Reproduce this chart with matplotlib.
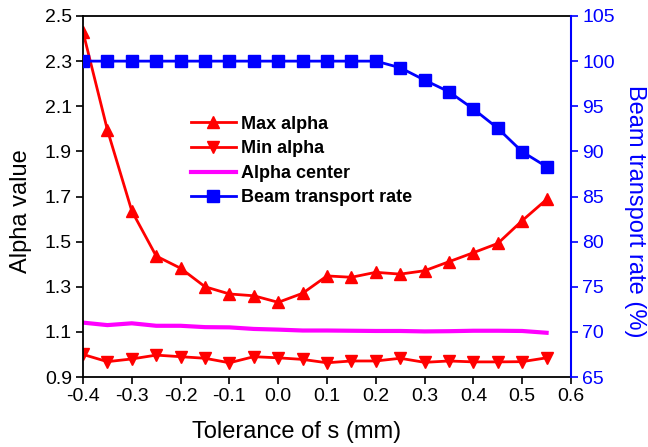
import matplotlib
matplotlib.use("Agg")
import matplotlib.pyplot as plt

plt.rcParams['font.family'] = ['Liberation Sans', 'DejaVu Sans']

tolerance = [-0.4, -0.35, -0.3, -0.25, -0.2, -0.15, -0.1, -0.05, 0.0, 0.05,
             0.1, 0.15, 0.2, 0.25, 0.3, 0.35, 0.4, 0.45, 0.5, 0.55]
max_alpha = [2.43, 1.995, 1.636, 1.436, 1.382, 1.30, 1.268, 1.26, 1.231, 1.271,
             1.348, 1.342, 1.364, 1.356, 1.371, 1.411, 1.451, 1.492, 1.593, 1.687]
min_alpha = [1.0, 0.968, 0.980, 0.997, 0.990, 0.983, 0.963, 0.990, 0.985, 0.978,
             0.963, 0.971, 0.971, 0.983, 0.965, 0.971, 0.967, 0.967, 0.968, 0.985]
alpha_center = [1.141, 1.130, 1.138, 1.127, 1.127, 1.121, 1.120, 1.113, 1.110, 1.106,
                1.106, 1.105, 1.104, 1.104, 1.102, 1.103, 1.105, 1.105, 1.104, 1.096]
beam_rate = [100, 100, 100, 100, 100, 100, 100, 100, 100, 100,
             100, 100, 100, 99.27, 97.9, 96.6, 94.7, 92.56, 89.96, 88.3]

xticks = [-0.4, -0.3, -0.2, -0.1, 0.0, 0.1, 0.2, 0.3, 0.4, 0.5, 0.6]
yticks_left = [0.9, 1.1, 1.3, 1.5, 1.7, 1.9, 2.1, 2.3, 2.5]
yticks_right = [65, 70, 75, 80, 85, 90, 95, 100, 105]

fig = plt.figure(figsize=(6.48, 4.47), dpi=100)
ax = fig.add_axes([83/648, 1 - 377/447, (571-83)/648, (377-16)/447])
ax2 = ax.twinx()

l1, = ax.plot(tolerance, max_alpha, color='red', lw=2, marker='^', ms=9, label='Max alpha')
l2, = ax.plot(tolerance, min_alpha, color='red', lw=2, marker='v', ms=9, label='Min alpha')
l3, = ax.plot(tolerance, alpha_center, color='magenta', lw=3, label='Alpha center')
l4, = ax2.plot(tolerance, beam_rate, color='blue', lw=2, marker='s', ms=8, label='Beam transport rate')

ax.set_xlim(-0.4, 0.6)
ax.set_ylim(0.9, 2.5)
ax2.set_ylim(65, 105)
ax.set_xticks(xticks)
ax.set_xticklabels([f"{v:.1f}" for v in xticks])
ax.set_yticks(yticks_left)
ax.set_yticklabels([f"{v:.1f}" for v in yticks_left])
ax2.set_yticks(yticks_right)

ax.tick_params(axis='both', direction='out', labelsize=14, width=1.2, length=5, pad=3)
ax2.tick_params(axis='y', direction='out', labelsize=14, width=1.2, length=5, pad=3,
                colors='blue')
for s in ['left', 'bottom', 'top']:
    ax.spines[s].set_linewidth(1.3)
ax2.spines['right'].set_color('blue')
ax2.spines['right'].set_linewidth(1.5)
for s in ['left', 'bottom', 'top']:
    ax2.spines[s].set_visible(False)
ax.spines['right'].set_visible(False)

ax.set_xlabel('Tolerance of s (mm)', fontsize=17)
ax.set_ylabel('Alpha value', fontsize=17)
ax2.set_ylabel('Beam transport rate (%)', fontsize=17, color='blue',
               rotation=270, va='center')
ax.xaxis.set_label_coords(0.438, -0.122)
ax.yaxis.set_label_coords(-0.105, 0.46)
ax2.yaxis.set_label_coords(1.132, 0.46)

ax2.legend([l1, l2, l3, l4], [h.get_label() for h in [l1, l2, l3, l4]],
           loc='center left', bbox_to_anchor=(0.221, 0.598), frameon=False,
           prop={'weight': 'bold', 'size': 13}, handlelength=2.5,
           labelspacing=0.42, handletextpad=0.3, borderpad=0, borderaxespad=0)

fig.savefig('out.png', dpi=100)
